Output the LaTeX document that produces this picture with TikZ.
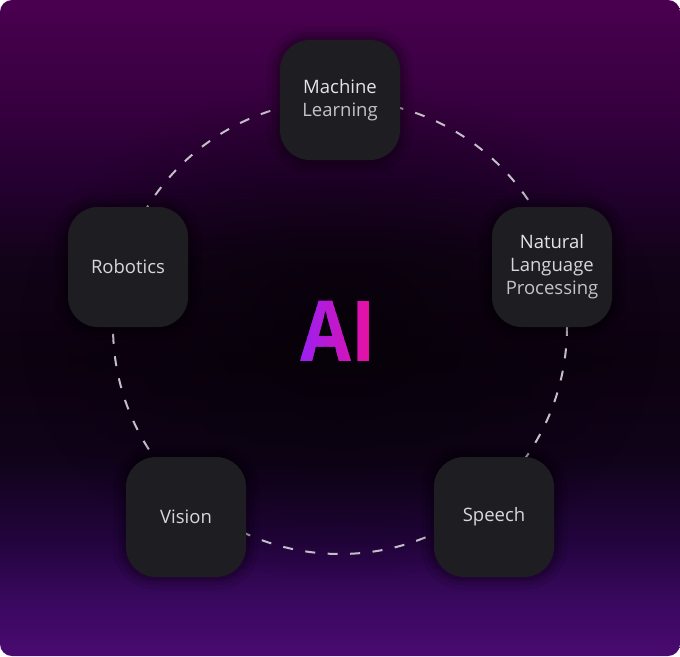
\documentclass[tikz,border=0pt]{standalone}
\usepackage{fontspec}
\setmainfont{Open Sans}
\usetikzlibrary{fadings,shadings}
\definecolor{nodefill}{HTML}{1E1D22}
\definecolor{txtA}{HTML}{E4E4E6}
\definecolor{txtB}{HTML}{C4C4C8}
\definecolor{dashc}{HTML}{C2C0C6}
\definecolor{aiL}{HTML}{9A20F2}
\definecolor{aiR}{HTML}{E810A4}
\definecolor{bgdark}{HTML}{050106}
\definecolor{bgA}{HTML}{4A0A70}
\definecolor{bgB}{HTML}{3A0860}
\definecolor{bgC}{HTML}{22043C}
\definecolor{bgD}{HTML}{10031A}
\definecolor{bgE}{HTML}{0C0210}
\definecolor{bgF}{HTML}{120318}
\definecolor{bgG}{HTML}{240030}
\definecolor{bgH}{HTML}{380040}
\definecolor{bgI}{HTML}{4A0050}
\pgfdeclareverticalshading{bgshade}{100bp}{%
  color(0bp)=(bgA);
  color(25bp)=(bgA);
  color(29bp)=(bgB);
  color(34bp)=(bgC);
  color(40bp)=(bgD);
  color(47.5bp)=(bgE);
  color(55bp)=(bgF);
  color(61bp)=(bgG);
  color(67.5bp)=(bgH);
  color(75bp)=(bgI);
  color(100bp)=(bgI)}
\tikzfading[name=softcenter, inner color=transparent!0, outer color=transparent!100]
\begin{document}
\begin{tikzpicture}[x=1pt,y=-1pt,
  box/.style={draw=none, fill=nodefill, rounded corners=30pt, minimum width=120pt,
    minimum height=120pt, inner sep=0pt, align=center,
    font=\fontsize{18.5}{23}\selectfont,
    preaction={draw=black, draw opacity=0.08, line width=26pt},
    preaction={draw=black, draw opacity=0.10, line width=16pt},
    preaction={draw=black, draw opacity=0.14, line width=8pt}},
  aitext/.style={inner sep=0pt, font=\fontsize{84}{84}\selectfont\bfseries,
    xscale=0.88, transform shape},
  ring/.style={draw=dashc, line width=2pt, dash pattern=on 10pt off 12.5pt}]
\useasboundingbox (0,0) rectangle (680,656);
\fill[white] (0,0) rectangle (680,656);
\begin{scope}
  \clip[rounded corners=12pt] (0,0) rectangle (680,656);
  \shade[shading=bgshade] (0,0) rectangle (680,656);
  \fill[bgdark, path fading=softcenter, opacity=0.7] (340,330) ellipse (320pt and 250pt);
\end{scope}
\coordinate (cen) at (340,327);
\draw[ring] (cen) circle (227pt);
\node[box] (ml) at (340,100) {\textcolor{txtA}{Machine}\\\textcolor{txtB}{Learning}};
\node[box] (nlp) at (552,267) {\textcolor{txtA}{Natural}\\\textcolor{txtA!60!txtB}{Language}\\\textcolor{txtB}{Processing}};
\node[box] (sp) at (494,517) {\textcolor{txtA!60!txtB}{Speech}};
\node[box] (vis) at (186,517) {\textcolor{txtA!60!txtB}{Vision}};
\node[box] (rob) at (128,267) {\textcolor{txtA!60!txtB}{Robotics}};
\foreach \i in {0,...,39}{
  \pgfmathsetmacro{\pc}{\i*100/39}
  \begin{scope}
    \clip (300+1.8*\i,270) rectangle (302.2+1.8*\i,395);
    \node[aitext, text=aiR!\pc!aiL] (ai\i) at (338,331) {AI};
  \end{scope}
}
\end{tikzpicture}
\end{document}
